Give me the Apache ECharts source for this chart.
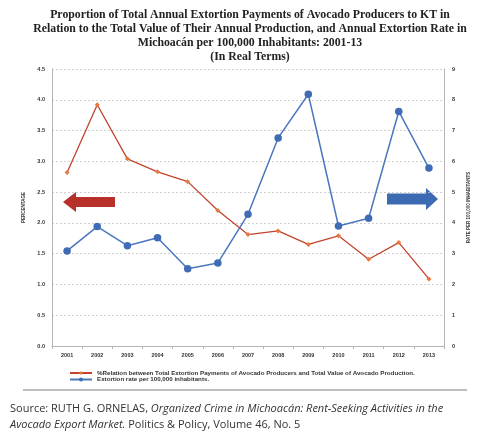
<!DOCTYPE html>
<html>
<head>
    <meta charset="UTF-8">
    <title>Avocado extortion chart</title>
    <script src="https://cdn.jsdelivr.net/npm/echarts@6/dist/echarts.min.js"></script>
    <style type="text/css">
        html, body, #main {
            height: 100%;
            width: 100%;
            margin: 0;
            padding: 0;
            background: #fff;
        }
    </style>
</head>
<body>
<div id="main"></div>
<script type="text/javascript">
    // data
    var years = ['2001', '2002', '2003', '2004', '2005', '2006', '2007', '2008', '2009', '2010', '2011', '2012', '2013'];
    var relationPct = [2.82, 3.92, 3.04, 2.83, 2.67, 2.20, 1.81, 1.87, 1.65, 1.79, 1.41, 1.68, 1.09];
    var extortionRate = [3.09, 3.88, 3.26, 3.52, 2.51, 2.70, 4.28, 6.76, 8.18, 3.90, 4.15, 7.62, 5.78];
    var seriesNames = [
        '%Relation between Total Extortion Payments of Avocado Producers and Total Value of Avocado Production.',
        'Extortion rate per 100,000 inhabitants.'
    ];

    var chart = echarts.init(document.getElementById('main'));
    var tickFont = {fontSize: 5.5, fontWeight: 'bold', color: '#333', fontFamily: 'Liberation Sans'};

    var option = {
        backgroundColor: '#fff',
        animation: false,
        title: {
            text: 'Proportion of Total Annual Extortion Payments of Avocado Producers to KT in\n' +
                'Relation to the Total Value of Their Annual Production, and Annual Extortion Rate in\n' +
                'Michoacán per 100,000 Inhabitants: 2001-13\n(In Real Terms)',
            left: 245,
            top: 3,
            textAlign: 'center',
            textStyle: {
                fontFamily: 'Liberation Serif',
                fontWeight: 'bold',
                fontSize: 11.8,
                lineHeight: 14,
                color: '#222'
            }
        },
        grid: {left: 52, right: 42, top: 69, bottom: 102},
        legend: {
            orient: 'vertical',
            left: 64,
            top: 365,
            itemWidth: 22,
            itemHeight: 5,
            itemGap: 0.5,
            textStyle: {fontSize: 6.2, fontWeight: 'bold', color: '#333', fontFamily: 'Liberation Sans'},
            data: seriesNames
        },
        xAxis: {
            type: 'category',
            data: years,
            boundaryGap: true,
            axisLine: {lineStyle: {color: '#b5b5b5', width: 1}},
            axisTick: {show: true, length: 3, lineStyle: {color: '#b5b5b5'}},
            axisLabel: Object.assign({margin: 6}, tickFont)
        },
        yAxis: [{
            type: 'value',
            min: 0, max: 4.5, interval: 0.5,
            name: 'PERCENTAGE',
            nameLocation: 'middle',
            nameRotate: 90,
            nameGap: 25,
            nameTextStyle: {fontSize: 4.5, fontWeight: 'bold', color: '#333'},
            axisLine: {show: true, lineStyle: {color: '#b5b5b5'}},
            axisTick: {show: false},
            axisLabel: Object.assign({margin: 7, formatter: function (v) { return v.toFixed(1); }}, tickFont),
            splitLine: {lineStyle: {color: '#c4c4c4', type: [2, 2], width: 0.8}}
        }, {
            type: 'value',
            min: 0, max: 9, interval: 1,
            name: 'RATE PER 100,000 INHABITANTS',
            nameLocation: 'middle',
            nameRotate: 90,
            nameGap: 18,
            nameTextStyle: {fontSize: 4.5, fontWeight: 'bold', color: '#333'},
            axisLine: {show: true, lineStyle: {color: '#b5b5b5'}},
            axisTick: {show: false},
            axisLabel: Object.assign({margin: 8}, tickFont),
            splitLine: {show: false}
        }],
        series: [{
            name: seriesNames[0],
            type: 'line',
            yAxisIndex: 0,
            data: relationPct,
            symbol: 'diamond',
            symbolSize: 5,
            lineStyle: {color: '#c3432e', width: 1.3},
            itemStyle: {color: '#e37a3e'}
        }, {
            name: seriesNames[1],
            type: 'line',
            yAxisIndex: 1,
            data: extortionRate,
            symbol: 'circle',
            symbolSize: 7.5,
            lineStyle: {color: '#4a77bd', width: 1.5},
            itemStyle: {color: '#3f6cb5'}
        }],
        graphic: [
            // red arrow pointing to the left axis
            {
                type: 'polygon',
                shape: {points: [[63, 202], [76, 192], [76, 197], [115, 197], [115, 207], [76, 207], [76, 212]]},
                style: {fill: '#b8302a'}
            },
            // blue arrow pointing to the right axis
            {
                type: 'polygon',
                shape: {points: [[438, 199], [426, 188], [426, 193.5], [387, 193.5], [387, 204.5], [426, 204.5], [426, 210]]},
                style: {fill: '#3c6bb4'}
            },
            {
                type: 'line',
                shape: {x1: 23, y1: 390, x2: 467, y2: 390},
                style: {stroke: '#a8a8a8', lineWidth: 1.5}
            },
            {
                type: 'text',
                left: 10,
                top: 403,
                style: {
                    text: '{n|Source: RUTH G. ORNELAS, }{i|Organized Crime in Michoacán: Rent-Seeking Activities in the}\n' +
                        '{i|Avocado Export Market.}{n| Politics & Policy, Volume 46, No. 5}',
                    rich: {
                        n: {fontFamily: 'Open Sans', fontSize: 11, lineHeight: 16, fill: '#333'},
                        i: {fontFamily: 'Open Sans', fontSize: 11, lineHeight: 16, fontStyle: 'italic', fill: '#333'}
                    }
                }
            }
        ]
    };

    chart.setOption(option);
</script>
</body>
</html>
